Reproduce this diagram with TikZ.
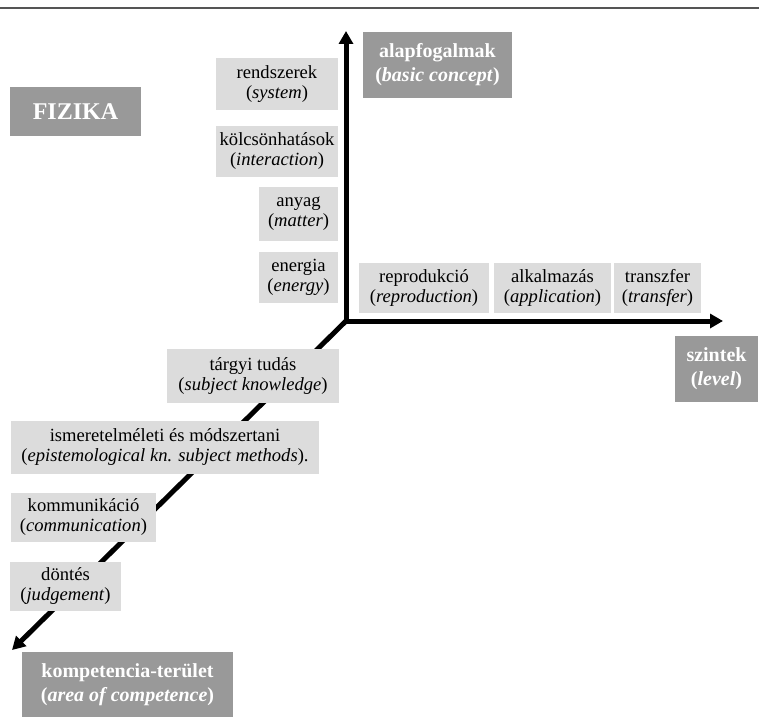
\documentclass[tikz,border=0pt]{standalone}
\usepackage{fontspec}
\setmainfont{Liberation Serif}
\usetikzlibrary{arrows.meta}
\definecolor{darkbox}{HTML}{999999}
\definecolor{lightbox}{HTML}{DCDCDC}
\definecolor{rule}{HTML}{555555}
\begin{document}
\begin{tikzpicture}[x=1pt,y=-1pt,
  lbox/.style={fill=lightbox,inner sep=0pt,align=center,font=\fontsize{18.6}{20}\selectfont},
  dbox/.style={fill=darkbox,inner sep=0pt,align=center,text=white,font=\fontsize{20}{24}\selectfont\bfseries},
  axis/.style={line width=5pt,-{Triangle[length=13pt,width=14pt]}}]
\useasboundingbox (0,0) rectangle (759,717);
\draw[rule,line width=1.3pt] (0,8) -- (759,8);
% axes (drawn first, so that the labels lie on top)
\coordinate (O) at (346,321);
\coordinate (ytip) at (346,31);
\coordinate (xtip) at (723,321);
\coordinate (ztip) at (12,650);
\draw[axis] (O) -- (ytip);
\draw[axis] (O) -- (xtip);
\draw[axis] (O) -- (ztip);
% dark labels
\node[dbox,minimum width=131pt,minimum height=49pt,font=\fontsize{24}{26}\selectfont\bfseries] (fiz) at (75.5,111.5) {FIZIKA};
\node[dbox,minimum width=149pt,minimum height=65pt] (alap) at (437.5,65) {alapfogalmak\\(\textit{basic concept})};
\node[dbox,minimum width=83pt,minimum height=66pt] (szint) at (716.5,369) {szintek\\(\textit{level})};
\node[dbox,minimum width=211pt,minimum height=65pt] (komp) at (127.5,684.5) {kompetencia-terület\\(\textit{area of competence})};
% vertical axis labels
\node[lbox,minimum width=122pt,minimum height=52pt] (rend) at (277,84) {rendszerek\\(\textit{system})};
\node[lbox,minimum width=122pt,minimum height=51pt] (kolcs) at (277,151.5) {kölcsönhatások\\(\textit{interaction})};
\node[lbox,minimum width=79pt,minimum height=54pt] (anyag) at (298.5,214) {anyag\\(\textit{matter})};
\node[lbox,minimum width=79pt,minimum height=51pt] (energ) at (298.5,277.5) {energia\\(\textit{energy})};
% horizontal axis labels
\node[lbox,minimum width=130pt,minimum height=50pt] (repro) at (424,288) {reprodukció\\(\textit{reproduction})};
\node[lbox,minimum width=117pt,minimum height=50pt] (alk) at (552.5,288) {alkalmazás\\(\textit{application})};
\node[lbox,minimum width=87pt,minimum height=50pt] (transz) at (657.5,288) {transzfer\\(\textit{transfer})};
% diagonal axis labels
\node[lbox,minimum width=172pt,minimum height=54pt] (targy) at (253,376) {tárgyi tudás\\(\textit{subject knowledge})};
\node[lbox,minimum width=308pt,minimum height=53pt] (ismer) at (165,447.5) {ismeretelméleti és módszertani\\(\textit{epistemological kn. subject methods}).};
\node[lbox,minimum width=145pt,minimum height=49pt] (kommun) at (83.5,517.5) {kommunikáció\\(\textit{communication})};
\node[lbox,minimum width=111pt,minimum height=49pt] (dont) at (65.5,586.5) {döntés\\(\textit{judgement})};
\end{tikzpicture}
\end{document}
